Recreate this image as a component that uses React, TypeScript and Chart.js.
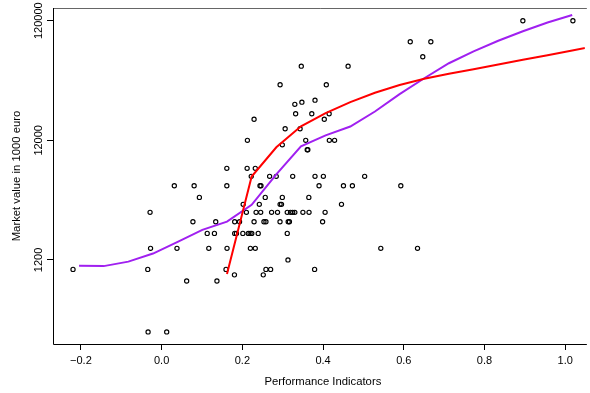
import { useEffect, useRef } from "react";
import { Chart, registerables } from "chart.js";

Chart.register(...registerables);

// Scatter points: performance indicator (x) and market value in 1000 euro (y)
const pointX = [
  0.895, 1.019,
  0.616, 0.667,
  0.647,
  0.346, 0.462,
  0.2935, 0.408,
  0.38,
  0.3475,
  0.33,
  0.332, 0.372, 0.415,
  0.229, 0.403,
  0.306, 0.343,
  0.2125, 0.357, 0.4155, 0.4285,
  0.299,
  0.3607, 0.3622,
  0.1615, 0.2118, 0.232,
  0.222, 0.2675, 0.284, 0.3247, 0.38, 0.4007, 0.503,
  0.0314, 0.0805, 0.1615, 0.2437, 0.2461, 0.39, 0.4505, 0.4726, 0.5926,
  0.0935, 0.2567, 0.299, 0.3647,
  0.202, 0.242, 0.2935, 0.297, 0.4456,
  -0.0287, 0.21, 0.234, 0.2454, 0.2724, 0.2871, 0.3112, 0.3193, 0.3247, 0.33, 0.35, 0.3652, 0.405,
  0.0775, 0.134, 0.181, 0.193, 0.229, 0.2535, 0.2584, 0.2933, 0.3136, 0.3166, 0.3988,
  0.1129, 0.1308, 0.181, 0.1853, 0.2012, 0.2147, 0.2191, 0.2233, 0.2393, 0.3112,
  -0.0275, 0.038, 0.1168, 0.162, 0.2199, 0.232, 0.543, 0.634,
  0.313,
  -0.2196, -0.0344, 0.1595, 0.2584, 0.27, 0.379,
  0.1804, 0.2518,
  0.062, 0.137,
  -0.0336, 0.0125,
];
const pointY = [
  120000, 120000,
  80000, 80000,
  60000,
  50000, 50000,
  35000, 35000,
  26000,
  25000,
  24000,
  20000, 20000, 20000,
  18000, 18000,
  15000, 15000,
  12000, 12000, 12000, 12000,
  11000,
  10000, 10000,
  7000, 7000, 7000,
  6000, 6000, 6000, 6000, 6000, 6000, 6000,
  5000, 5000, 5000, 5000, 5000, 5000, 5000, 5000, 5000,
  4000, 4000, 4000, 4000,
  3500, 3500, 3500, 3500, 3500,
  3000, 3000, 3000, 3000, 3000, 3000, 3000, 3000, 3000, 3000, 3000, 3000, 3000,
  2500, 2500, 2500, 2500, 2500, 2500, 2500, 2500, 2500, 2500, 2500,
  2000, 2000, 2000, 2000, 2000, 2000, 2000, 2000, 2000, 2000,
  1500, 1500, 1500, 1500, 1500, 1500, 1500, 1500,
  1200,
  1000, 1000, 1000, 1000, 1000, 1000,
  900, 900,
  800, 800,
  300, 300,
];

// Purple smooth curve
const smoothX = [
  -0.2047, -0.1436, -0.0825, -0.0214, 0.0397, 0.1008, 0.1619, 0.223, 0.2841, 0.3452,
  0.4063, 0.4674, 0.5285, 0.5896, 0.6507, 0.7118, 0.7729, 0.834, 0.8951, 0.9562, 1.0173,
];
const smoothY = [
  1075, 1065, 1161, 1357, 1697, 2139, 2510, 3463, 6233, 10690,
  13213, 15654, 20900, 29230, 39630, 52920, 66440, 81620, 98000, 115960, 133950,
];

// Red fitted curve
const fitX = [
  0.1619, 0.223, 0.2841, 0.3452, 0.4063, 0.4674, 0.5285, 0.5896, 0.6507, 0.7118,
  0.7729, 0.834, 0.8951, 0.9562, 1.0173, 1.0784,
];
const fitY = [
  916, 5975, 10486, 15715, 20270, 25055, 29970, 34840, 39250, 43220,
  47230, 51700, 56580, 61840, 67700, 74130,
];

const xTickValues = [-0.2, 0, 0.2, 0.4, 0.6, 0.8, 1.0];
const xTickLabels = ["\u22120.2", "0.0", "0.2", "0.4", "0.6", "0.8", "1.0"];
const yTickValues = [1200, 12000, 120000];
const yTickLabels = ["1200", "12000", "120000"];
const xTitle = "Performance Indicators";
const yTitle = "Market value in 1000 euro";

const FONT = '"Liberation Sans", Arial, Helvetica, sans-serif';

const textPlugin = {
  id: "rStyleTexts",
  afterDraw(chart: any) {
    const ctx = chart.ctx as CanvasRenderingContext2D;
    const { left, right, top, bottom } = chart.chartArea;
    const xs = chart.scales.x;
    const ys = chart.scales.y;
    ctx.save();
    ctx.lineWidth = 1;
    ctx.strokeStyle = "#666";
    ctx.beginPath();
    ctx.moveTo(right + 2, top + 0.5);
    ctx.lineTo(left + 0.5, top + 0.5);
    ctx.stroke();
    ctx.strokeStyle = "#000";
    ctx.beginPath();
    ctx.moveTo(left + 0.5, top);
    ctx.lineTo(left + 0.5, bottom + 0.5);
    ctx.lineTo(right + 2, bottom + 0.5);
    ctx.stroke();

    ctx.fillStyle = "#000";
    ctx.font = `11px ${FONT}`;
    ctx.textAlign = "center";
    ctx.textBaseline = "alphabetic";
    xTickValues.forEach((v, i) => {
      ctx.fillText(xTickLabels[i], xs.getPixelForValue(v), bottom + 19.5);
    });
    yTickValues.forEach((v, i) => {
      ctx.save();
      ctx.translate(left - 11.5, ys.getPixelForValue(v));
      ctx.rotate(-Math.PI / 2);
      ctx.fillText(yTickLabels[i], 0, 0);
      ctx.restore();
    });
    ctx.font = `11.3px ${FONT}`;
    ctx.fillText(xTitle, (left + right) / 2 + 4, bottom + 41);
    ctx.save();
    ctx.translate(left - 33, (top + bottom) / 2);
    ctx.rotate(-Math.PI / 2);
    ctx.fillText(yTitle, 0, 0);
    ctx.restore();
    ctx.restore();
  },
};

export default function App() {
  const canvasRef = useRef<HTMLCanvasElement | null>(null);

  useEffect(() => {
    const canvas = canvasRef.current;
    if (!canvas) return;
    const points = pointX.map((x, i) => ({ x, y: pointY[i] }));
    const smooth = smoothX.map((x, i) => ({ x, y: smoothY[i] }));
    const fit = fitX.map((x, i) => ({ x, y: fitY[i] }));

    const chart = new Chart(canvas, {
      type: "scatter",
      data: {
        datasets: [
          {
            data: fit,
            showLine: true,
            borderColor: "#FF0000",
            borderWidth: 2,
            pointRadius: 0,
            tension: 0,
            fill: false,
          },
          {
            data: smooth,
            showLine: true,
            borderColor: "#A020F0",
            borderWidth: 2,
            pointRadius: 0,
            tension: 0,
            fill: false,
          },
          {
            data: points,
            showLine: false,
            pointRadius: 2.1,
            pointBorderWidth: 1.15,
            pointBorderColor: "#000",
            pointBackgroundColor: "rgba(0,0,0,0)",
            borderColor: "#000",
            backgroundColor: "rgba(0,0,0,0)",
          },
        ],
      },
      options: {
        animation: false,
        responsive: false,
        maintainAspectRatio: false,
        devicePixelRatio: 1,
        layout: { padding: { top: 8, left: 0, right: 0, bottom: 0 } },
        plugins: {
          legend: { display: false },
          tooltip: { enabled: false },
          title: { display: false },
        },
        scales: {
          x: {
            type: "linear",
            bounds: "data",
            min: -0.2692,
            max: 1.0486,
            afterBuildTicks: (s: any) => {
              s.ticks = xTickValues.map((v) => ({ value: v }));
            },
            afterFit: (s: any) => {
              s.height = 49;
            },
            ticks: { display: false },
            grid: {
              display: true,
              drawOnChartArea: false,
              drawTicks: true,
              tickLength: 6,
              color: "#000",
              tickColor: "#000",
              lineWidth: 1,
            },
            border: { display: false },
          },
          y: {
            type: "logarithmic",
            bounds: "data",
            min: 237.8,
            max: 153300,
            afterBuildTicks: (s: any) => {
              s.ticks = yTickValues.map((v) => ({ value: v }));
            },
            afterFit: (s: any) => {
              s.width = 53;
            },
            ticks: { display: false },
            grid: {
              display: true,
              drawOnChartArea: false,
              drawTicks: true,
              tickLength: 6,
              color: "#000",
              tickColor: "#000",
              lineWidth: 1,
            },
            border: { display: false },
          },
        },
      } as any,
      plugins: [textPlugin],
    });
    return () => chart.destroy();
  }, []);

  return (
    <div style={{ position: "absolute", left: 0, top: 0, width: 590, height: 393, background: "#fff" }}>
      <canvas ref={canvasRef} width={590} height={393} style={{ display: "block", width: 590, height: 393 }} />
    </div>
  );
}
